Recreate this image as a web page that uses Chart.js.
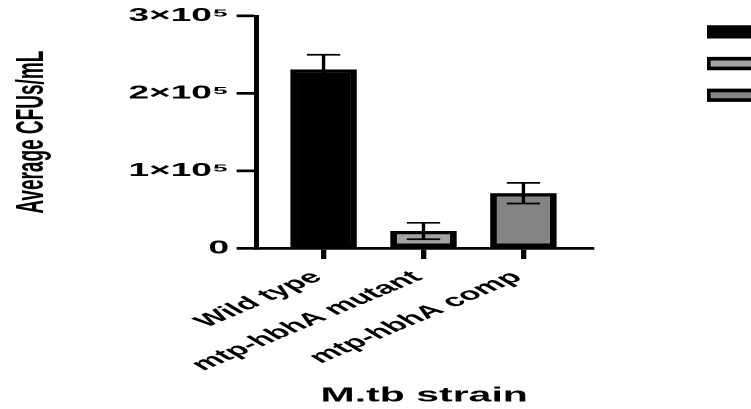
<!DOCTYPE html>
<html>
<head>
<meta charset="utf-8">
<script src="https://cdn.jsdelivr.net/npm/chart.js@4.4.1/dist/chart.umd.min.js"></script>
<style>
  html, body { margin: 0; padding: 0; background: #fff; overflow: hidden; width: 751px; height: 409px; }
  /* the figure is drawn narrow and widened 2x horizontally */
  #wrap { position: absolute; left: 0; top: 0; transform: scaleX(2); transform-origin: 0 0; }
  canvas { display: block; }
</style>
</head>
<body>
<div id="wrap"><canvas id="chart" width="414" height="409"></canvas></div>
<script>
// CFU counts per strain (mean ± SEM)
const strains = ['Wild type', 'mtp-hbhA mutant', 'mtp-hbhA comp'];
const meanCFU = [231000, 22300, 71200];
const semCFU = [19000, 10600, 13300];
const strainPositions = [0, 1, 2];
const yTickValues = [0, 100000, 200000, 300000];
const yTickLabels = ['0', '1×10⁵', '2×10⁵', '3×10⁵'];
const barFills = ['#000000', '#a3a3a3', '#848484'];

const FONT = "'Liberation Sans', Arial, Helvetica, sans-serif";

// whiskers for the SEM, drawn on top of the bars
const errorBars = {
  id: 'errorBars',
  afterDatasetsDraw(chart) {
    const meta = chart.getDatasetMeta(0);
    const y = chart.scales.y;
    const ctx = chart.ctx;
    ctx.save();
    ctx.strokeStyle = '#000';
    ctx.lineWidth = 1.7;
    meta.data.forEach((bar, i) => {
      const top = y.getPixelForValue(meanCFU[i] + semCFU[i]);
      const bottom = y.getPixelForValue(meanCFU[i] - semCFU[i]);
      const half = bar.width / 4;
      ctx.beginPath();
      ctx.moveTo(bar.x, top); ctx.lineTo(bar.x, bottom);
      ctx.moveTo(bar.x - half, top); ctx.lineTo(bar.x + half, top);
      ctx.moveTo(bar.x - half, bottom); ctx.lineTo(bar.x + half, bottom);
      ctx.stroke();
    });
    ctx.restore();
  }
};

new Chart(document.getElementById('chart'), {
  type: 'bar',
  data: {
    datasets: [{
      data: strainPositions.map((x, i) => ({ x: x, y: meanCFU[i] })),
      backgroundColor: barFills,
      borderColor: '#000',
      borderWidth: 3.4,
      borderSkipped: false,
      barPercentage: 0.667,
      categoryPercentage: 1
    }]
  },
  options: {
    responsive: false,
    animation: false,
    devicePixelRatio: 2,
    layout: { padding: { top: 16, left: 0, right: 0, bottom: 0 } },
    plugins: {
      tooltip: { enabled: false },
      legend: {
        display: true,
        position: 'right',
        align: 'start',
        maxWidth: 60.5,
        onClick: null,
        labels: {
          boxWidth: 40,
          boxHeight: 9.7,
          padding: 0,
          color: '#000',
          font: { family: FONT, size: 31.7, weight: 'bold' },
          generateLabels: () => strains.map((s, i) => ({
            text: s,
            fillStyle: barFills[i],
            strokeStyle: '#000',
            lineWidth: 3.6,
            hidden: false,
            index: i
          }))
        }
      }
    },
    scales: {
      x: {
        type: 'linear',
        min: -0.67,
        max: 2.684,
        offset: false,
        afterBuildTicks: s => { s.ticks = strainPositions.map(v => ({ value: v })); },
        afterFit: s => { s.height = 160.7; },
        grid: { display: true, drawOnChartArea: false, drawTicks: true, offset: false,
                tickLength: 10.7, lineWidth: 2.65, tickWidth: 2.65, tickColor: '#000', color: '#000' },
        border: { display: true, color: '#000', width: 2.8 },
        ticks: {
          autoSkip: false, minRotation: 40, maxRotation: 40, labelOffset: -3, padding: 8,
          color: '#000', font: { family: FONT, size: 17.3, weight: 'bold' },
          callback: v => strains[strainPositions.indexOf(v)]
        },
        title: { display: true, text: 'M.tb strain', color: '#000',
                 font: { family: FONT, size: 20.5, weight: 'bold' }, padding: { top: 0, bottom: 0.7 } }
      },
      y: {
        min: 0,
        max: 300000,
        afterBuildTicks: s => { s.ticks = yTickValues.map(v => ({ value: v })); },
        afterFit: s => { s.width = 128.3; },
        grid: { display: true, drawOnChartArea: false, tickLength: 10,
                lineWidth: 2.7, tickWidth: 2.7, tickColor: '#000', color: '#000' },
        border: { display: true, color: '#000', width: 2.5 },
        ticks: {
          padding: 3.7, color: '#000', font: { family: FONT, size: 18.5, weight: 'bold' },
          callback: v => yTickLabels[yTickValues.indexOf(v)]
        },
        title: { display: true, text: 'Average CFUs/mL', color: '#000',
                 font: { family: FONT, size: 19, weight: 'bold' }, padding: { top: 5, bottom: 0 } }
      },
      // blank strip between the plot and the legend
      gap: {
        position: 'right',
        display: true,
        grid: { display: false },
        border: { display: false },
        ticks: { display: false },
        afterFit: s => { s.width = 57.6; }
      }
    }
  },
  plugins: [errorBars]
});
</script>
</body>
</html>
